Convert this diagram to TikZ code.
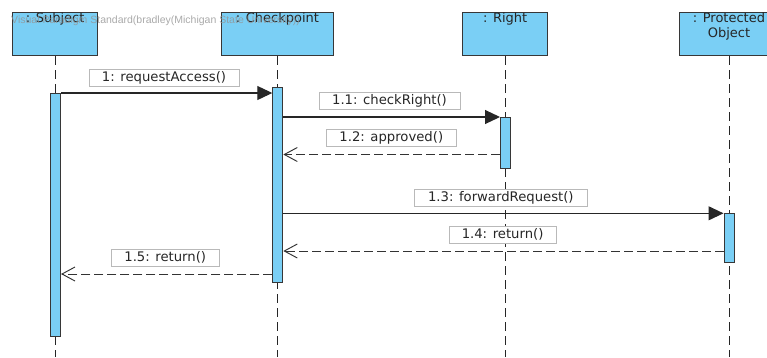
\documentclass[tikz,border=0pt]{standalone}
\usepackage{fontspec}
\setmainfont{DejaVu Sans}
\newfontfamily\tagfont{Liberation Sans}
\usetikzlibrary{arrows.meta}
\definecolor{vpblue}{RGB}{122,207,245}
\definecolor{vpline}{RGB}{55,55,55}
\definecolor{tagline}{RGB}{185,185,185}
\begin{document}
\begin{tikzpicture}[x=1pt,y=-1pt,
  headbox/.style={draw=vpline, fill=vpblue, line width=1pt, minimum width=85pt,
    minimum height=43pt, inner sep=0pt, anchor=north},
  headtext/.style={anchor=north, align=center, inner sep=0pt,
    font=\fontsize{13}{15}\selectfont, text=black!85},
  lifeline/.style={draw=black!85, line width=0.9pt, dash pattern=on 9pt off 5pt},
  actbar/.style={draw=vpline, fill=vpblue, line width=1pt, minimum width=10pt,
    inner sep=0pt, anchor=north},
  call/.style={draw=black!85, line width=1.1pt, -{Triangle[length=15pt,width=14pt]}},
  reply/.style={draw=black!80, line width=0.95pt, dash pattern=on 9pt off 4pt,
    -{Straight Barb[length=13pt,width=14pt,line width=0.95pt]}},
  msglabel/.style={draw=tagline, fill=white, line width=0.7pt, inner sep=0pt,
    minimum height=17pt, font=\fontsize{13.2}{15}\selectfont, text=black!85}]
\useasboundingbox (0,0) rectangle (767,357);
\clip (0,0) rectangle (767,357);

% lifeline heads
\node[headbox] (subj) at (55.2,12) {};
\node[headbox, minimum width=111.5pt] (chk) at (277.5,12) {};
\node[headbox] (rgt) at (505.2,12) {};
\node[headbox, minimum width=100pt] (prot) at (729,12) {};
\node[headtext] (tsubj) at (subj.north) {: Subject};
\node[headtext] (tchk) at (chk.north) {: Checkpoint};
\node[headtext] (trgt) at (rgt.north) {: Right};
\node[headtext] (tprot) at (prot.north) {: Protected\\Object};

% dashed lifelines
\coordinate (bottom) at (0,357);
\draw[lifeline] (subj.south) -- (subj.south |- bottom);
\draw[lifeline] (chk.south) -- (chk.south |- bottom);
\draw[lifeline] (rgt.south) -- (rgt.south |- bottom);
\draw[lifeline] (prot.south) -- (prot.south |- bottom);

% activation bars
\node[actbar, minimum height=243pt] (bS) at (55.5,93) {};
\node[actbar, minimum height=195pt] (bC) at (277.8,87) {};
\node[actbar, minimum height=51pt] (bR) at (505.5,117) {};
\node[actbar, minimum height=49pt] (bP) at (729,213.3) {};

% messages
\draw[call] (bS.north east) -- (bC.west |- bS.north east);
\draw[call] (bC.east |- bR.north) -- (bR.north west);
\coordinate (r12) at ([yshift=14.5pt]bR.south west);
\draw[reply] (r12) -- (bC.east |- r12);
\draw[call] (bC.east |- bP.north) -- (bP.north west);
\coordinate (r14) at ([yshift=12.3pt]bP.south west);
\draw[reply] (r14) -- (bC.east |- r14);
\coordinate (r15) at ([yshift=9pt]bC.south west);
\draw[reply] (r15) -- (bS.east |- r15);

% message labels
\node[msglabel, minimum width=150pt] (m1) at (164,77.5) {1: requestAccess()};
\node[msglabel, minimum width=141pt] (m11) at (389.5,100.5) {1.1: checkRight()};
\node[msglabel, minimum width=129.5pt] (m12) at (391.3,138.2) {1.2: approved()};
\node[msglabel, minimum width=173pt] (m13) at (500.8,197.6) {1.3: forwardRequest()};
\node[msglabel, minimum width=107.3pt] (m14) at (502.6,234.7) {1.4: return()};
\node[msglabel, minimum width=108.3pt] (m15) at (165.2,257.6) {1.5: return()};

% edition tag line
\node[anchor=west, inner sep=0pt, text=black!42, opacity=0.8,
  font=\tagfont\fontsize{10.5}{12}\selectfont] (tag) at (11,20.5)
  {Visual Paradigm Standard(bradley(Michigan State University))};
\end{tikzpicture}
\end{document}
